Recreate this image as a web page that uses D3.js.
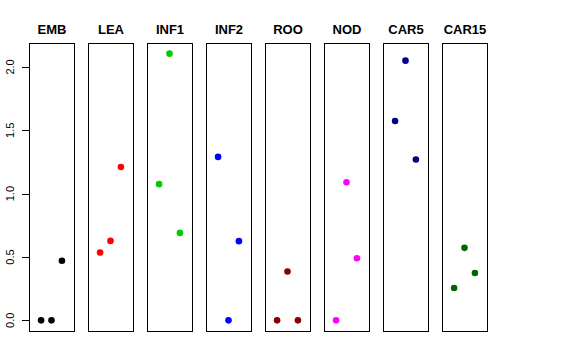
<!DOCTYPE html>
<html>
<head>
<meta charset="utf-8">
<script src="https://cdn.jsdelivr.net/npm/d3@7"></script>
<style>
  body { margin: 0; background: #fff; }
  text { font-family: "Liberation Sans", Arial, sans-serif; }
</style>
</head>
<body>
<svg id="chart" width="576" height="360"></svg>
<script>
// panel names, colours and the three values in each panel (x positions 1, 2, 3)
const groups = ['EMB', 'LEA', 'INF1', 'INF2', 'ROO', 'NOD', 'CAR5', 'CAR15'];
const colors = ['#000000', '#FF0000', '#00CD00', '#0000FF', '#8B0000', '#FF00FF', '#00008B', '#006400'];
const values = [
    [0, 0, 0.47],
    [0.535, 0.627, 1.21],
    [1.075, 2.105, 0.69],
    [1.29, 0, 0.625],
    [0, 0.385, 0],
    [0, 1.09, 0.49],
    [1.573, 2.05, 1.27],
    [0.255, 0.572, 0.374]
];
const yTicks = [0, 0.5, 1.0, 1.5, 2.0];

const svg = d3.select('#chart');

// each panel is its own little plot region
const plotTop = 43, plotBottom = 331;
const panelW = 45, step = 59, left0 = 29;

const all = values.flat();
const yMin = d3.min(all), yMax = d3.max(all);
const pad = (yMax - yMin) * 0.04;
const y = d3.scaleLinear().domain([yMin - pad, yMax + pad]).range([plotBottom, plotTop]);

// x: positions 1..3 on a 0..4 range, with 4% padding on both sides
const x = d3.scaleLinear().domain([-0.16, 4.16]).range([0, panelW]);

// y axis on the left of the first panel
const axis = svg.append('g').attr('class', 'yaxis');
axis.append('line')
    .attr('x1', left0 + 0.5).attr('x2', left0 + 0.5)
    .attr('y1', y(0)).attr('y2', y(2))
    .attr('stroke', '#000');
axis.selectAll('line.tick')
    .data(yTicks)
    .enter()
    .append('line')
    .attr('class', 'tick')
    .attr('x1', left0 - 7).attr('x2', left0 + 0.5)
    .attr('y1', d => Math.round(y(d)) + 0.5)
    .attr('y2', d => Math.round(y(d)) + 0.5)
    .attr('stroke', '#000');
axis.selectAll('text')
    .data(yTicks)
    .enter()
    .append('text')
    .attr('transform', d => `translate(14,${y(d)}) rotate(-90)`)
    .attr('text-anchor', 'middle')
    .attr('font-size', 11)
    .text(d => d.toFixed(1));

const panels = svg.append('g')
    .attr('class', 'panels')
    .selectAll('g')
    .data(groups)
    .enter()
    .append('g')
    .attr('class', 'panel')
    .attr('transform', (d, i) => `translate(${left0 + step * i},0)`)
    .each(function(d, i) {
        let gg = d3.select(this);
        gg.append('rect')
            .attr('x', 0.5)
            .attr('y', plotTop + 0.5)
            .attr('width', panelW)
            .attr('height', plotBottom - plotTop)
            .attr('fill', 'none')
            .attr('stroke', '#000');
        gg.append('text')
            .attr('x', panelW / 2 + 0.5)
            .attr('y', 34)
            .attr('text-anchor', 'middle')
            .attr('font-size', 13)
            .attr('font-weight', 'bold')
            .text(d);
        gg.selectAll('circle')
            .data(values[i])
            .enter()
            .append('circle')
            .attr('cx', (v, j) => x(j + 1))
            .attr('cy', v => y(v))
            .attr('r', 3.3)
            .attr('fill', colors[i]);
    });
</script>
</body>
</html>
